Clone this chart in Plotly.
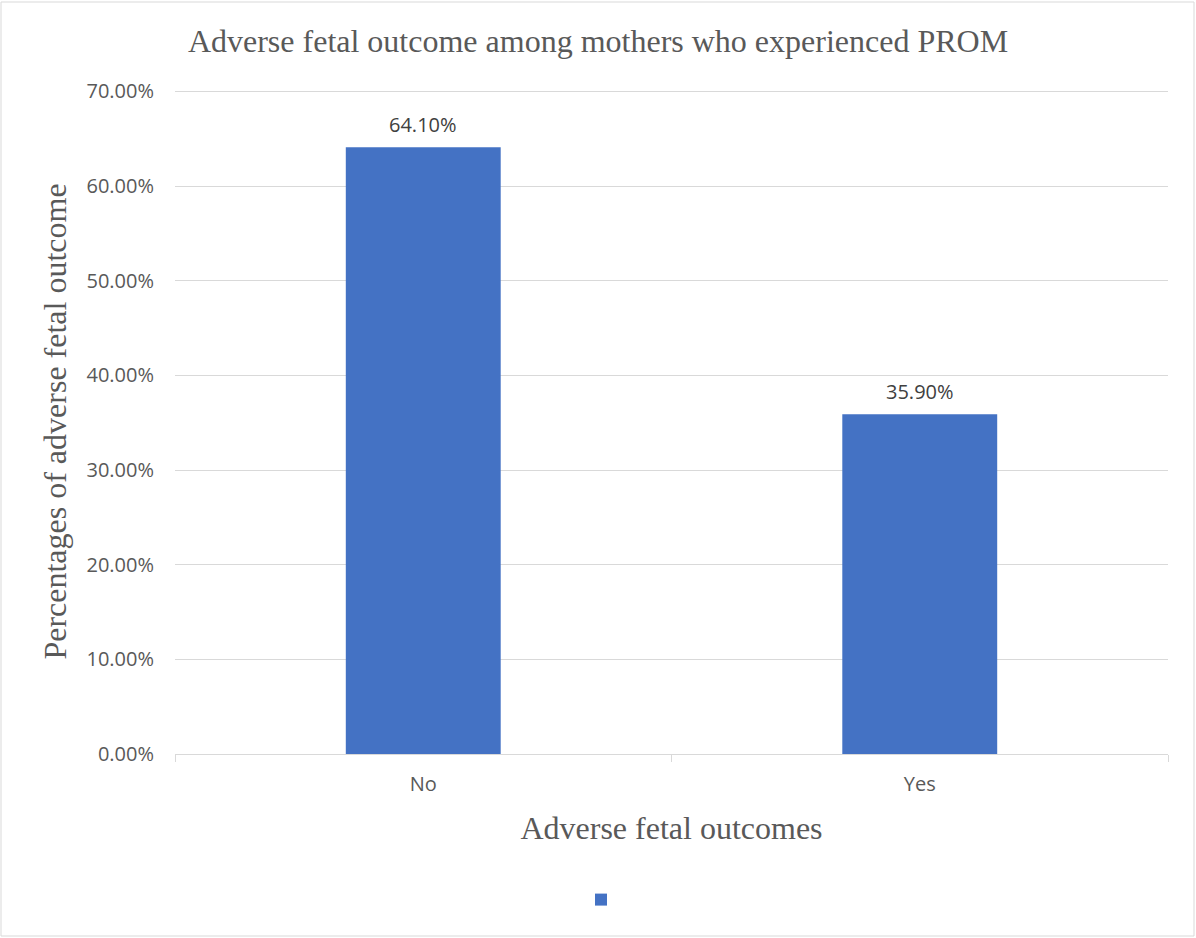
import plotly.graph_objects as go

categories = ["No", "Yes"]
values = [0.641, 0.359]
y_ticks = [0, 0.1, 0.2, 0.3, 0.4, 0.5, 0.6, 0.7]

W, H = 1196, 938
L, R, T, B = 175, 28, 89, 184
pw, ph = W - L - R, H - T - B

fig = go.Figure()
fig.add_trace(go.Bar(
    x=categories, y=values,
    marker=dict(color="#4472C4", line=dict(width=0)),
    name=" ",
    showlegend=True,
))

annotations = [
    dict(x=c, y=v, xref="x", yref="y", text=f"{v*100:.2f}%", showarrow=False,
         yanchor="middle", yshift=23,
         font=dict(family="Open Sans", size=20, color="#404040"))
    for c, v in zip(categories, values)
]

fig.update_layout(
    width=W, height=H,
    margin=dict(l=L, r=R, t=T, b=B, autoexpand=False),
    paper_bgcolor="white", plot_bgcolor="white",
    bargap=0.688,
    annotations=annotations,
    title=dict(text="Adverse fetal outcome among mothers who experienced PROM",
               font=dict(family="Liberation Serif", size=32, color="#595959"),
               x=0.5, xanchor="center", y=1 - 41/H, yanchor="middle"),
    xaxis=dict(
        title=dict(text="Adverse fetal outcomes",
                   font=dict(family="Liberation Serif", size=32, color="#595959"),
                   standoff=20),
        tickfont=dict(family="Open Sans", size=20, color="#595959"),
        showline=True, linecolor="#d9d9d9", linewidth=1,
        ticks="outside", tickson="boundaries", ticklen=7, tickcolor="#d9d9d9",
        ticklabelstandoff=12,
        showgrid=False,
    ),
    yaxis=dict(
        title=dict(text="Percentages of adverse fetal outcome",
                   font=dict(family="Liberation Serif", size=32, color="#595959"),
                   standoff=10),
        range=[0, 0.7025], tickvals=y_ticks, tickformat=".2%",
        tickfont=dict(family="Open Sans", size=20, color="#595959"),
        ticklabelstandoff=20,
        showgrid=True, gridcolor="#d9d9d9", gridwidth=1,
        zeroline=False, showline=False, ticks="",
    ),
    showlegend=True,
    legend=dict(orientation="h", x=0.5 - 66/pw, xanchor="center", y=-(900 - 754)/ph, yanchor="middle",
                font=dict(size=14), itemwidth=30),
    shapes=[dict(type="rect", xref="paper", yref="paper",
                 x0=(1 - L)/pw, x1=(W - 2 - L)/pw,
                 y0=-(H - 2 - (T + ph))/ph, y1=1 + (T - 2)/ph,
                 line=dict(color="#d9d9d9", width=1), layer="below")],
)

fig.write_html("out.html")
